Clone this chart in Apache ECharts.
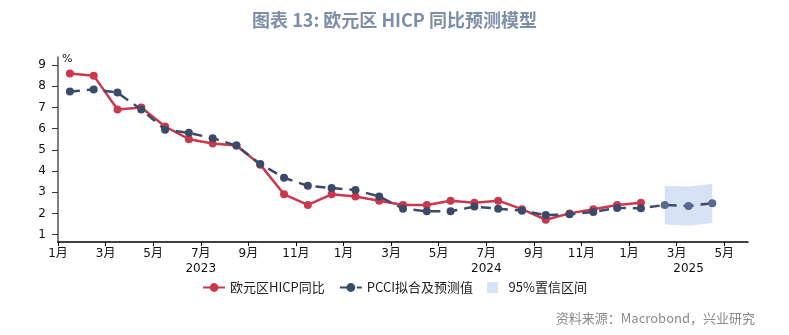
<!DOCTYPE html>
<html>
<head>
<meta charset="utf-8">
<script src="https://cdn.jsdelivr.net/npm/echarts@6/dist/echarts.min.js"></script>
<style>
  html, body { margin: 0; padding: 0; background: #fff; }
  #chart { width: 789px; height: 335px; }
</style>
</head>
<body>
<div id="chart"></div>
<script>
// Months from Jan 2023 to May 2025 (axis positions are month indices)
const monthCount = 29;

// Euro area HICP YoY, Jan 2023 – Jan 2025 (%)
const hicp = [8.6, 8.5, 6.9, 7.0, 6.1, 5.5, 5.3, 5.2, 4.3, 2.9, 2.4, 2.9,
              2.8, 2.6, 2.4, 2.4, 2.6, 2.5, 2.6, 2.2, 1.7, 2.0, 2.2, 2.4,
              2.5];

// PCCI fitted values, Jan 2023 – Jan 2025 (%)
const pcciFit = [7.75, 7.85, 7.7, 6.9, 5.95, 5.8, 5.55, 5.2, 4.33, 3.68, 3.3, 3.2,
                 3.1, 2.8, 2.22, 2.1, 2.1, 2.32, 2.22, 2.13, 1.92, 1.96, 2.07, 2.26,
                 2.24];
// PCCI forecasts, Feb – Apr 2025 (%)
const pcciForecast = [2.4, 2.35, 2.48];
// 95% confidence interval for the forecast months
const ciLower = [1.47, 1.42, 1.55];
const ciUpper = [3.3, 3.27, 3.4];

const yTicks = [1, 2, 3, 4, 5, 6, 7, 8, 9];
const monthTicks = [0, 2, 4, 6, 8, 10, 12, 14, 16, 18, 20, 22, 24, 26, 28];
const yearLabels = ['2023', '2024', '2025'];

const RED = '#c9394d';
const NAVY = '#3c4a6a';
const NAVY_LIGHT = '#56698f';
const BAND = '#d7e3f5';
const FONT = '"DejaVu Sans", "Noto Sans CJK SC", sans-serif';

// mid-month positions
const mid = i => i + 0.5;
const hicpData = hicp.map((v, i) => [mid(i), v]);
const fcStart = pcciFit.length;
const pcciData = pcciFit.map((v, i) => [mid(i), v]).concat(
  pcciForecast.map((v, k) => ({
    value: [mid(fcStart + k), v],
    itemStyle: { color: NAVY_LIGHT }
  }))
);
// band rows: [x, lower, upper]
const bandData = ciLower.map((v, k) => [mid(fcStart + k), v, ciUpper[k]]);

// year label positions: centre of each year's span on the axis
const yearPos = [6, 18, (24 + monthCount) / 2];

const chart = echarts.init(document.getElementById('chart'), null, { renderer: 'canvas' });
chart.setOption({
  animation: false,
  backgroundColor: '#ffffff',
  title: {
    text: '图表 13: 欧元区 HICP 同比预测模型',
    left: 'center',
    top: 6,
    textStyle: {
      color: '#7f8ea8',
      fontSize: 18,
      fontWeight: 'bold',
      fontFamily: '"Noto Sans CJK SC", sans-serif'
    }
  },
  grid: { left: 58, right: 41, top: 57, bottom: 93, containLabel: false },
  legend: {
    data: [
      { name: '欧元区HICP同比' },
      { name: 'PCCI拟合及预测值' },
      { name: '95%置信区间', icon: 'path://M0,0H10V10H0Z' }
    ],
    left: 'center',
    top: 276,
    itemWidth: 22,
    itemHeight: 11,
    itemGap: 14,
    textStyle: { fontSize: 13, color: '#222', fontFamily: '"Noto Sans CJK SC", sans-serif' }
  },
  xAxis: [
    {
      type: 'value',
      min: 0,
      max: monthCount,
      splitLine: { show: false },
      axisLine: { show: true, lineStyle: { color: '#000', width: 1.5 } },
      axisTick: { show: true, customValues: monthTicks, length: 4, lineStyle: { color: '#000' } },
      axisLabel: {
        customValues: monthTicks,
        formatter: v => ((Math.round(v) % 12) + 1) + '月',
        color: '#111',
        fontSize: 12,
        margin: 6,
        fontFamily: FONT
      }
    },
    {
      type: 'value',
      min: 0,
      max: monthCount,
      position: 'bottom',
      splitLine: { show: false },
      axisLine: { show: false },
      axisTick: { show: false },
      axisLabel: {
        customValues: yearPos,
        formatter: v => yearLabels[yearPos.indexOf(v)] || '',
        color: '#111',
        fontSize: 12,
        margin: 21,
        fontFamily: FONT
      }
    }
  ],
  yAxis: {
    type: 'value',
    min: 0.65,
    max: 9.38,
    name: '%',
    nameLocation: 'end',
    nameGap: -8,
    nameTextStyle: { color: '#111', fontSize: 11, align: 'left', padding: [0, 0, 0, 4], fontFamily: FONT },
    splitLine: { show: false },
    axisLine: { show: true, lineStyle: { color: '#555', width: 1.5 } },
    axisTick: { show: true, customValues: yTicks, inside: false, length: 6, lineStyle: { color: '#333' } },
    axisLabel: {
      customValues: yTicks,
      color: '#111',
      fontSize: 12,
      margin: 12,
      fontFamily: FONT
    }
  },
  series: [
    {
      name: '95%置信区间',
      type: 'custom',
      data: bandData,
      encode: { x: 0, y: [1, 2] },
      itemStyle: { color: BAND },
      z: 1,
      renderItem: function (params, api) {
        // draw the whole band once, on the first data item
        if (params.dataIndex !== 0) return null;
        const top = bandData.map(d => api.coord([d[0], d[2]]));
        const bottom = bandData.map(d => api.coord([d[0], d[1]])).reverse();
        return {
          type: 'polygon',
          shape: { points: top.concat(bottom) },
          style: { fill: BAND }
        };
      }
    },
    {
      name: '欧元区HICP同比',
      type: 'line',
      data: hicpData,
      symbol: 'circle',
      symbolSize: 8,
      itemStyle: { color: RED },
      lineStyle: { color: RED, width: 2.5 },
      z: 3
    },
    {
      name: 'PCCI拟合及预测值',
      type: 'line',
      data: pcciData,
      symbol: 'circle',
      symbolSize: 8,
      itemStyle: { color: NAVY },
      lineStyle: { color: NAVY, width: 2.5, type: [10, 7] },
      z: 4
    }
  ],
  graphic: [
    {
      type: 'text',
      right: 34,
      top: 312,
      style: {
        text: '资料来源：Macrobond，兴业研究',
        fill: '#8a8a8a',
        fontSize: 13,
        fontFamily: '"Noto Sans CJK SC", sans-serif'
      }
    }
  ]
});
</script>
</body>
</html>
